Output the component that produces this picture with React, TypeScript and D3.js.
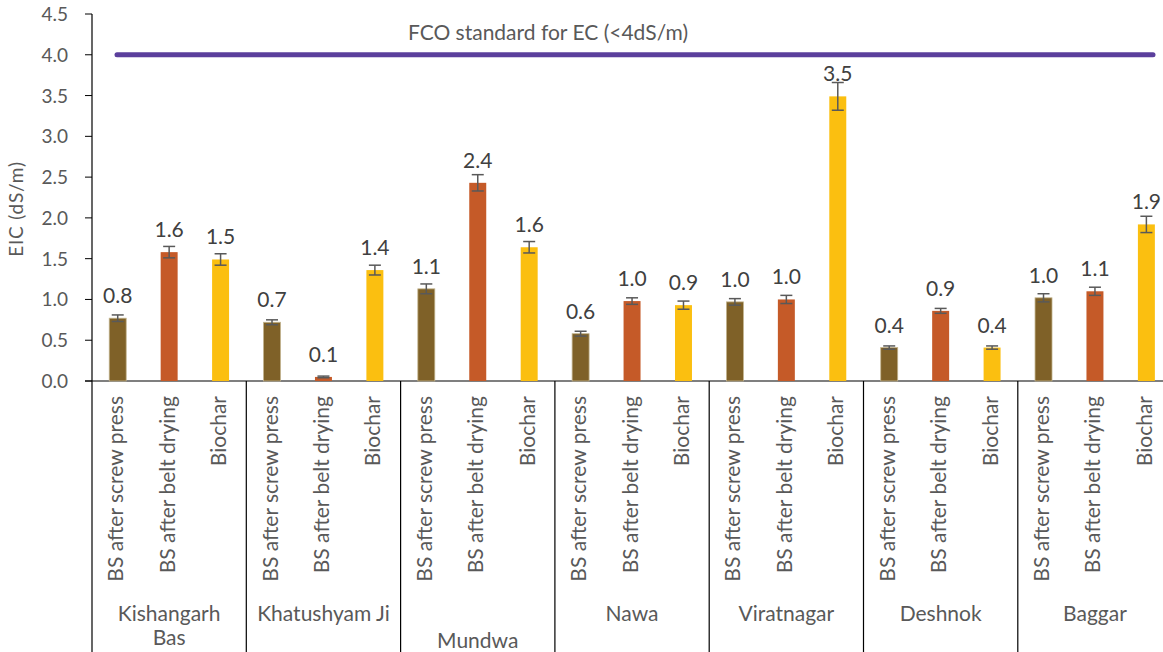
import React from "react";
import * as d3 from "d3";

const sites = ["Kishangarh Bas", "Khatushyam Ji", "Mundwa", "Nawa", "Viratnagar", "Deshnok", "Baggar"];
const materials = ["BS after screw press", "BS after belt drying", "Biochar"];
const screwPress = [0.77, 0.72, 1.13, 0.58, 0.97, 0.41, 1.02];
const beltDrying = [1.58, 0.05, 2.43, 0.98, 1.0, 0.86, 1.1];
const biochar = [1.49, 1.36, 1.64, 0.93, 3.49, 0.41, 1.92];
const screwErr = [0.04, 0.03, 0.06, 0.03, 0.04, 0.02, 0.05];
const beltErr = [0.07, 0.01, 0.1, 0.04, 0.05, 0.03, 0.05];
const biocharErr = [0.07, 0.06, 0.07, 0.05, 0.17, 0.02, 0.1];
const yTicks = [0, 0.5, 1, 1.5, 2, 2.5, 3, 3.5, 4, 4.5];
const standardValue = 4.0;
const standardLabel = "FCO standard for EC (<4dS/m)";
const colors = ["#7F6128", "#C55A28", "#FBBF10"];

const W = 1163;
const H = 652;
const FONT = "Lato, 'Open Sans', sans-serif";
const TXT = "#595959";

export default function App() {
  const left = 92;
  const groupW = 154.3;
  const right = left + groupW * sites.length;
  const y = d3.scaleLinear().domain([0, 4.5]).range([381, 14]);
  const keys = d3.range(sites.length * 3).map(String);
  const x = d3.scaleBand().domain(keys).range([left, right]).paddingInner(0.67).paddingOuter(0.335);
  const series = [screwPress, beltDrying, biochar];
  const errs = [screwErr, beltErr, biocharErr];

  const bars: any[] = [];
  sites.forEach((s, gi) => {
    series.forEach((vals, si) => {
      const k = String(gi * 3 + si);
      const v = vals[gi];
      const e = errs[si][gi];
      const bx = x(k)!;
      const bw = x.bandwidth();
      const cx = bx + bw / 2;
      bars.push(
        <g key={k}>
          <rect x={bx} y={y(v)} width={bw} height={y(0) - y(v)} fill={colors[si]}
            stroke={si === 0 ? "#C2B48E" : "none"} strokeWidth={si === 0 ? 0.8 : 0} />
          <line x1={cx} x2={cx} y1={y(v + e)} y2={y(v - e)} stroke="#595959" strokeWidth={1.5} />
          <line x1={cx - 6} x2={cx + 6} y1={y(v + e)} y2={y(v + e)} stroke="#595959" strokeWidth={1.5} />
          <line x1={cx - 6} x2={cx + 6} y1={y(v - e)} y2={y(v - e)} stroke="#595959" strokeWidth={1.5} />
          <text x={cx} y={y(v) - 15} textAnchor="middle" fontSize={21} fill="#404040" fontFamily={FONT}>
            {v.toFixed(1)}
          </text>
          <text transform={`translate(${cx + 5.5},396) rotate(-90)`} textAnchor="end" fontSize={21}
            fill={TXT} fontFamily={FONT}>
            {materials[si]}
          </text>
        </g>
      );
    });
  });

  const groupLabels = sites.map((s, gi) => {
    const cx = left + groupW * (gi + 0.5);
    if (s === "Kishangarh Bas") {
      return (
        <text key={s} x={cx} y={620.5} textAnchor="middle" fontSize={21} fill={TXT} fontFamily={FONT}>
          <tspan x={cx} dy={0}>Kishangarh</tspan>
          <tspan x={cx} dy={24.5}>Bas</tspan>
        </text>
      );
    }
    const yy = s === "Mundwa" ? 647.5 : 620.5;
    return (
      <text key={s} x={cx} y={yy} textAnchor="middle" fontSize={21} fill={TXT} fontFamily={FONT}>
        {s}
      </text>
    );
  });

  return (
    <div style={{ position: "fixed", left: 0, top: 0 }}>
      <svg width={W} height={H} style={{ display: "block", background: "#fff" }}>
        {yTicks.map((t) => (
          <g key={t}>
            <line x1={left - 7} x2={left} y1={y(t)} y2={y(t)} stroke="#000" strokeWidth={1} />
            <text x={left - 24} y={y(t) + 7} textAnchor="end" fontSize={19} fill={TXT} fontFamily={FONT}>
              {t.toFixed(1)}
            </text>
          </g>
        ))}
        <line x1={left} x2={left} y1={y(4.5)} y2={H} stroke="#000" strokeWidth={1.2} />
        <line x1={left - 7} x2={W} y1={y(0)} y2={y(0)} stroke="#000" strokeWidth={1.2} />
        {d3.range(1, sites.length).map((i) => (
          <line key={i} x1={left + groupW * i} x2={left + groupW * i} y1={y(0)} y2={H}
            stroke="#000" strokeWidth={1.2} />
        ))}
        <text transform={`translate(23,209) rotate(-90)`} textAnchor="middle" fontSize={19}
          fill={TXT} fontFamily={FONT} letterSpacing={0.8}>
          EIC (dS/m)
        </text>
        {bars}
        <line x1={117} x2={1153} y1={y(standardValue)} y2={y(standardValue)} stroke="#5B3F9C"
          strokeWidth={5} strokeLinecap="round" />
        <text x={548} y={40} textAnchor="middle" fontSize={21} fill={TXT} fontFamily={FONT}>
          {standardLabel}
        </text>
        {groupLabels}
      </svg>
    </div>
  );
}
